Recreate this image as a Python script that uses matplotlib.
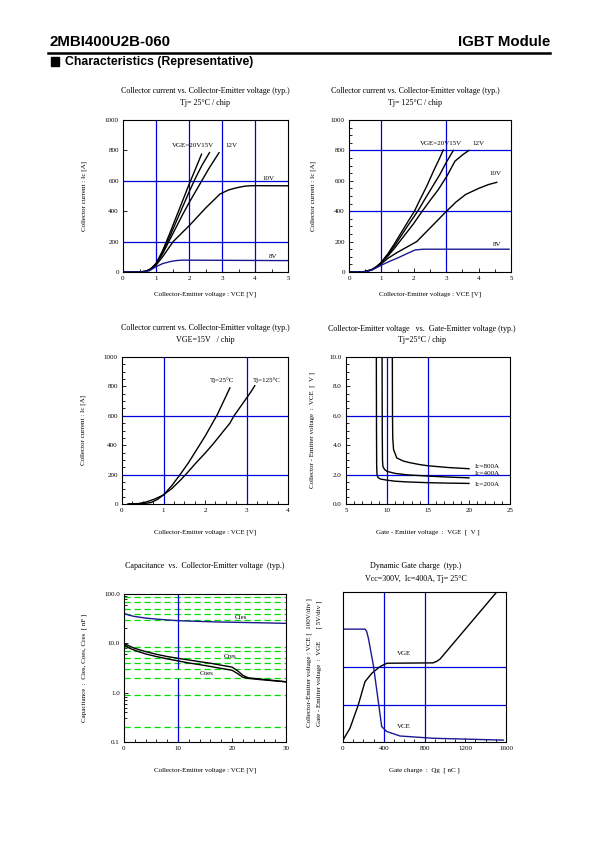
import numpy as np
import matplotlib
matplotlib.use('Agg')
import matplotlib.pyplot as plt
from matplotlib.patches import Rectangle
from matplotlib.ticker import MultipleLocator, NullLocator, LogLocator, NullFormatter, FormatStrFormatter

plt.rcParams['font.family'] = ['Liberation Serif', 'DejaVu Serif']

W, H = 595, 842
BLUE = '#0000dd'
NAVY = '#1a1a90'

# ---- panel 1 : Ic vs VCE, Tj=25C ----
p1_vce_20 = [0, 0.5, 0.7, 0.85, 1.0, 1.2, 1.4, 1.6, 1.8, 2.0, 2.2, 2.38]
p1_ic_20 = [0, 0, 5, 22, 55, 140, 245, 355, 465, 575, 680, 775]
p1_vce_15 = [0, 0.5, 0.7, 0.85, 1.0, 1.2, 1.4, 1.6, 1.8, 2.0, 2.2, 2.4, 2.62]
p1_ic_15 = [0, 0, 5, 22, 55, 130, 225, 325, 425, 525, 620, 705, 785]
p1_vce_12 = [0, 0.5, 0.7, 0.85, 1.0, 1.2, 1.4, 1.6, 1.8, 2.0, 2.2, 2.4, 2.6, 2.91]
p1_ic_12 = [0, 0, 5, 20, 50, 120, 205, 290, 375, 455, 530, 605, 680, 785]
p1_vce_10 = [0, 0.5, 0.7, 0.85, 1.0, 1.2, 1.52, 2.03, 2.5, 2.94, 3.2, 3.44, 3.7, 3.95, 5.0]
p1_ic_10 = [0, 0, 5, 20, 45, 100, 200, 310, 420, 513, 540, 554, 565, 568, 567]
p1_vce_8 = [0, 0.6, 0.8, 1.0, 1.2, 1.42, 1.6, 1.8, 5.0]
p1_ic_8 = [0, 0, 8, 35, 55, 68, 75, 78, 75]

# ---- panel 2 : Ic vs VCE, Tj=125C ----
p2_vce_20 = [0, 0.3, 0.5, 0.7, 0.85, 1.0, 1.2, 1.4, 1.6, 1.8, 2.02, 2.2, 2.4, 2.6, 2.8, 2.91]
p2_ic_20 = [0, 0, 3, 15, 35, 65, 120, 185, 255, 325, 400, 480, 565, 660, 750, 803]
p2_vce_15 = [0, 0.3, 0.5, 0.7, 0.85, 1.0, 1.2, 1.4, 1.6, 1.8, 2.12, 2.4, 2.6, 2.8, 3.0, 3.22]
p2_ic_15 = [0, 0, 3, 15, 35, 62, 112, 170, 235, 300, 400, 500, 570, 640, 720, 800]
p2_vce_12 = [0, 0.3, 0.5, 0.7, 0.85, 1.0, 1.2, 1.4, 1.6, 1.8, 2.0, 2.26, 2.5, 2.75, 3.02, 3.27, 3.5, 3.7]
p2_ic_12 = [0, 0, 3, 15, 34, 60, 105, 155, 210, 265, 320, 400, 470, 540, 630, 729, 770, 800]
p2_vce_10 = [0, 0.3, 0.5, 0.7, 0.85, 1.0, 1.2, 1.5, 2.09, 2.45, 3.01, 3.3, 3.6, 4.0, 4.3, 4.56]
p2_ic_10 = [0, 0, 3, 14, 32, 55, 90, 130, 200, 278, 400, 460, 510, 550, 575, 590]
p2_vce_8 = [0, 0.3, 0.5, 0.7, 1.01, 1.25, 1.52, 1.8, 2.04, 2.3, 4.94]
p2_ic_8 = [0, 0, 2, 12, 46, 70, 94, 122, 145, 150, 150]

# ---- panel 3 : Ic vs VCE, VGE=15V ----
p3_vce_25 = [0.15, 0.5, 0.7, 0.85, 1.0, 1.2, 1.4, 1.6, 1.8, 2.0, 2.2, 2.3, 2.45, 2.6]
p3_ic_25 = [0, 2, 10, 30, 62, 125, 200, 280, 370, 460, 560, 610, 700, 790]
p3_vce_125 = [0.15, 0.4, 0.6, 0.8, 1.0, 1.2, 1.4, 1.55, 1.8, 2.0, 2.2, 2.4, 2.6, 2.7, 2.9, 3.1, 3.2]
p3_ic_125 = [0, 3, 15, 35, 62, 105, 160, 205, 285, 345, 410, 480, 550, 600, 680, 760, 805]

# ---- panel 4 : VCE vs VGE ----
p4_vge_200 = [8.70, 8.72, 8.74, 8.78, 8.9, 9.2, 10, 11, 12.5, 15, 17.5, 20]
p4_vce_200 = [10.0, 5.0, 2.6, 2.0, 1.8, 1.7, 1.62, 1.55, 1.5, 1.45, 1.42, 1.4]
p4_vge_400 = [9.40, 9.42, 9.45, 9.5, 9.7, 10, 11, 12.5, 15, 17.5, 20]
p4_vce_400 = [10.0, 5.0, 3.0, 2.55, 2.35, 2.22, 2.08, 1.98, 1.9, 1.83, 1.78]
p4_vge_800 = [10.65, 10.67, 10.7, 10.8, 11.2, 12.0, 12.8, 14, 15, 17.5, 20]
p4_vce_800 = [10.0, 6.0, 4.5, 3.7, 3.13, 2.92, 2.81, 2.68, 2.6, 2.48, 2.4]

# ---- panel 5 : capacitance ----
p5_vce_cies = [0, 1, 2, 4, 6, 8, 10, 14, 18, 22, 26, 30]
p5_cies = [40.6, 37, 35, 32.5, 31, 29.8, 28.8, 27.8, 27.0, 26.5, 26.0, 25.4]
p5_vce_cres = [0, 1, 2, 4, 6, 8, 10, 12, 14, 16, 18, 20, 21, 22, 23, 25, 27, 30]
p5_cres = [10, 8.8, 7.9, 6.8, 6.0, 5.4, 4.97, 4.6, 4.25, 3.95, 3.6, 3.3, 2.8, 2.25, 2.0, 1.9, 1.8, 1.66]
p5_vce_coes = [0, 1, 2, 4, 6, 8, 10, 12, 14, 16, 18, 20, 21, 22, 23, 25, 27, 30]
p5_coes = [9.3, 8.0, 7.2, 6.1, 5.4, 4.85, 4.4, 4.0, 3.7, 3.4, 3.1, 2.85, 2.45, 2.05, 1.95, 1.85, 1.77, 1.66]
p5_green = [85, 70, 50, 40, 30, 8.5, 7, 5, 4, 3, 2, 0.9, 0.2]

# ---- panel 6 : gate charge (divisions) ----
p6_qg_vge = [0, 69, 150, 216, 282, 363, 429, 883, 920, 952, 1509]
p6_vge = [0.05, 0.37, 0.99, 1.61, 1.83, 2.01, 2.10, 2.11, 2.15, 2.21, 4.0]
p6_qg_vce = [0, 216, 232, 249, 298, 347, 380, 429, 560, 883, 1574]
p6_vce = [3.01, 3.01, 2.95, 2.77, 2.05, 1.07, 0.41, 0.28, 0.16, 0.10, 0.05]


def fx(x):
    return x / W


def fy(y):
    return 1 - y / H


def make_ax(l, t, r, b):
    ax = fig.add_axes([fx(l), fy(b), (r - l) / W, (b - t) / H])
    for s in ax.spines.values():
        s.set_linewidth(0.8)
    ax.tick_params(which='both', direction='in', top=False, right=False,
                   labelsize=5, pad=3, width=0.6)
    ax.tick_params(which='major', length=3)
    ax.tick_params(which='minor', length=2)
    return ax


def ftext(x, y, s, size=5.8, ha='center', **kw):
    fig.text(fx(x), fy(y), s, fontsize=size, ha=ha, va='center', **kw)


fig = plt.figure(figsize=(W / 100, H / 100), dpi=100)

# header
ftext(49, 41.5, '2MBI400U2B-060', size=10.8, ha='left', family='Liberation Sans', weight='bold')
ftext(550, 41.5, 'IGBT Module', size=10.8, ha='right', family='Liberation Sans', weight='bold')
fig.add_artist(plt.Line2D([fx(48), fx(550)], [fy(53), fy(53)], color='black', lw=1.8))
fig.add_artist(Rectangle((fx(50.5), fy(65.5)), 8.5 / W, 8.5 / H, color='black'))
ftext(65, 61.5, 'Characteristics (Representative)', size=8.8, ha='left', family='Liberation Sans', weight='bold')

lw = 1.0

# panel 1
ax = make_ax(123, 120, 288, 272)
for v in [1, 2, 3, 4]:
    ax.axvline(v, color=BLUE, lw=0.9)
for v in [200, 600]:
    ax.axhline(v, color=BLUE, lw=0.9)
ax.plot(p1_vce_20, p1_ic_20, color='black', lw=lw)
ax.plot(p1_vce_15, p1_ic_15, color='black', lw=lw)
ax.plot(p1_vce_12, p1_ic_12, color='black', lw=lw)
ax.plot(p1_vce_10, p1_ic_10, color='black', lw=lw)
ax.plot(p1_vce_8, p1_ic_8, color=NAVY, lw=lw)
ax.set_xlim(0, 5)
ax.set_ylim(0, 1000)
ax.xaxis.set_major_locator(MultipleLocator(1))
ax.xaxis.set_minor_locator(MultipleLocator(0.5))
ax.yaxis.set_major_locator(MultipleLocator(200))
ax.text(1.47, 829, 'VGE=20V15V', fontsize=5, va='center')
ax.text(3.1, 829, '12V', fontsize=5, va='center')
ax.text(4.23, 614, '10V', fontsize=5, va='center')
ax.text(4.41, 100, '8V', fontsize=5, va='center')
ftext(205, 91, 'Collector current vs. Collector-Emitter voltage (typ.)')
ftext(205, 103, 'Tj= 25°C / chip')
ftext(205, 294, 'Collector-Emitter voltage : VCE [V]', size=5)
fig.text(fx(84), fy(196), 'Collector current : Ic [A]', fontsize=5, rotation=90,
         ha='center', va='center')

# panel 2
ax = make_ax(349, 120, 511, 272)
for v in [1, 3]:
    ax.axvline(v, color=BLUE, lw=0.9)
for v in [400, 800]:
    ax.axhline(v, color=BLUE, lw=0.9)
ax.plot(p2_vce_20, p2_ic_20, color='black', lw=lw)
ax.plot(p2_vce_15, p2_ic_15, color='black', lw=lw)
ax.plot(p2_vce_12, p2_ic_12, color='black', lw=lw)
ax.plot(p2_vce_10, p2_ic_10, color='black', lw=lw)
ax.plot(p2_vce_8, p2_ic_8, color=NAVY, lw=lw)
ax.set_xlim(0, 5)
ax.set_ylim(0, 1000)
ax.xaxis.set_major_locator(MultipleLocator(1))
ax.xaxis.set_minor_locator(MultipleLocator(0.5))
ax.yaxis.set_major_locator(MultipleLocator(200))
ax.yaxis.set_minor_locator(MultipleLocator(50))
ax.text(2.19, 847, 'VGE=20V15V', fontsize=5, va='center')
ax.text(3.8, 847, '12V', fontsize=5, va='center')
ax.text(4.32, 646, '10V', fontsize=5, va='center')
ax.text(4.44, 182, '8V', fontsize=5, va='center')
ftext(415, 91, 'Collector current vs. Collector-Emitter voltage (typ.)')
ftext(415, 103, 'Tj= 125°C / chip')
ftext(430, 294, 'Collector-Emitter voltage : VCE [V]', size=5)
fig.text(fx(313), fy(196), 'Collector current : Ic [A]', fontsize=5, rotation=90,
         ha='center', va='center')

# panel 3
ax = make_ax(122, 357, 288, 504)
for v in [1, 3]:
    ax.axvline(v, color=BLUE, lw=0.9)
for v in [200, 600]:
    ax.axhline(v, color=BLUE, lw=0.9)
ax.plot(p3_vce_25, p3_ic_25, color='black', lw=lw)
ax.plot(p3_vce_125, p3_ic_125, color='black', lw=lw)
ax.set_xlim(0, 4)
ax.set_ylim(0, 1000)
ax.xaxis.set_major_locator(MultipleLocator(1))
ax.xaxis.set_minor_locator(MultipleLocator(0.25))
ax.yaxis.set_major_locator(MultipleLocator(200))
ax.yaxis.set_minor_locator(MultipleLocator(50))
ax.text(2.11, 840, 'Tj=25°C', fontsize=5, va='center')
ax.text(3.15, 840, 'Tj=125°C', fontsize=5, va='center')
ftext(205, 328, 'Collector current vs. Collector-Emitter voltage (typ.)')
ftext(205, 340, 'VGE=15V   / chip')
ftext(205, 532, 'Collector-Emitter voltage : VCE [V]', size=5)
fig.text(fx(83), fy(430), 'Collector current : Ic [A]', fontsize=5, rotation=90,
         ha='center', va='center')

# panel 4
ax = make_ax(346, 357, 510, 504)
for v in [10, 15]:
    ax.axvline(v, color=BLUE, lw=0.9)
for v in [2, 6]:
    ax.axhline(v, color=BLUE, lw=0.9)
ax.plot(p4_vge_200, p4_vce_200, color='black', lw=lw)
ax.plot(p4_vge_400, p4_vce_400, color='black', lw=lw)
ax.plot(p4_vge_800, p4_vce_800, color='black', lw=lw)
ax.set_xlim(5, 25)
ax.set_ylim(0, 10)
ax.xaxis.set_major_locator(MultipleLocator(5))
ax.xaxis.set_minor_locator(MultipleLocator(1))
ax.yaxis.set_major_locator(MultipleLocator(2))
ax.yaxis.set_minor_locator(MultipleLocator(0.5))
ax.yaxis.set_major_formatter(FormatStrFormatter('%.1f'))
ax.text(20.7, 2.56, 'Ic=800A', fontsize=5, va='center')
ax.text(20.7, 2.06, 'Ic=400A', fontsize=5, va='center')
ax.text(20.7, 1.34, 'Ic=200A', fontsize=5, va='center')
ftext(422, 329, 'Collector-Emitter voltage   vs.  Gate-Emitter voltage (typ.)')
ftext(422, 340, 'Tj=25°C / chip')
ftext(428, 532, 'Gate - Emitter voltage  :  VGE  [  V ]', size=5)
fig.text(fx(312), fy(430), 'Collector - Emitter voltage  :  VCE  [  V ]', fontsize=5,
         rotation=90, ha='center', va='center')

# panel 5
ax = make_ax(124, 594, 286, 742)
for v in p5_green:
    ax.axhline(v, color='#00dd00', lw=0.9, dashes=(5, 3))
ax.plot([10, 10], [100, 3.1], color=BLUE, lw=0.9)
ax.plot([10, 10], [1.9, 0.1], color=BLUE, lw=0.9)
ax.plot(p5_vce_cies, p5_cies, color=NAVY, lw=lw)
ax.plot(p5_vce_cres, p5_cres, color='black', lw=lw)
ax.plot(p5_vce_coes, p5_coes, color='black', lw=lw)
ax.set_yscale('log')
ax.set_xlim(0, 30)
ax.set_ylim(0.1, 100)
ax.xaxis.set_major_locator(MultipleLocator(10))
ax.xaxis.set_minor_locator(MultipleLocator(2))
ax.yaxis.set_minor_locator(LogLocator(base=10, subs=np.arange(2, 10)))
ax.yaxis.set_minor_formatter(NullFormatter())
ax.set_yticks([0.1, 1, 10, 100])
ax.set_yticklabels(['0.1', '1.0', '10.0', '100.0'])
ax.text(20.5, 34, 'Cies', fontsize=5, va='center')
ax.text(18.5, 5.3, 'Cres', fontsize=5, va='center')
ax.text(14.0, 2.47, 'Coes', fontsize=5, va='center')
ftext(205, 566, 'Capacitance  vs.  Collector-Emitter voltage  (typ.)')
ftext(205, 770, 'Collector-Emitter voltage : VCE [V]', size=5)
fig.text(fx(84), fy(668), 'Capacitance  :  Cies, Coes, Cres  [ nF ]', fontsize=5,
         rotation=90, ha='center', va='center')

# panel 6
ax = make_ax(343, 592, 506, 742)
for v in [400, 800]:
    ax.axvline(v, color=BLUE, lw=0.9)
for v in [1, 2]:
    ax.axhline(v, color=BLUE, lw=0.9)
ax.plot(p6_qg_vge, p6_vge, color='black', lw=lw)
ax.plot(p6_qg_vce, p6_vce, color=NAVY, lw=lw)
ax.set_xlim(0, 1600)
ax.set_ylim(0, 4)
ax.xaxis.set_major_locator(MultipleLocator(400))
ax.xaxis.set_minor_locator(MultipleLocator(100))
ax.yaxis.set_major_locator(NullLocator())
ax.text(600, 2.35, 'VGE', fontsize=5, ha='center', va='center')
ax.text(600, 0.42, 'VCE', fontsize=5, ha='center', va='center')
ftext(416, 566, 'Dynamic Gate charge  (typ.)')
ftext(416, 579, 'Vcc=300V,  Ic=400A, Tj= 25°C')
ftext(424, 770, 'Gate charge  :  Qg  [ nC ]', size=5)
fig.text(fx(309.5), fy(663), 'Collector-Emitter voltage : VCE [  100V/div ]', fontsize=5,
         rotation=90, ha='center', va='center')
fig.text(fx(319), fy(663), 'Gate - Emitter voltage  :  VGE       [ 5V/div ]', fontsize=5,
         rotation=90, ha='center', va='center')

fig.savefig('out.png', dpi=100)
